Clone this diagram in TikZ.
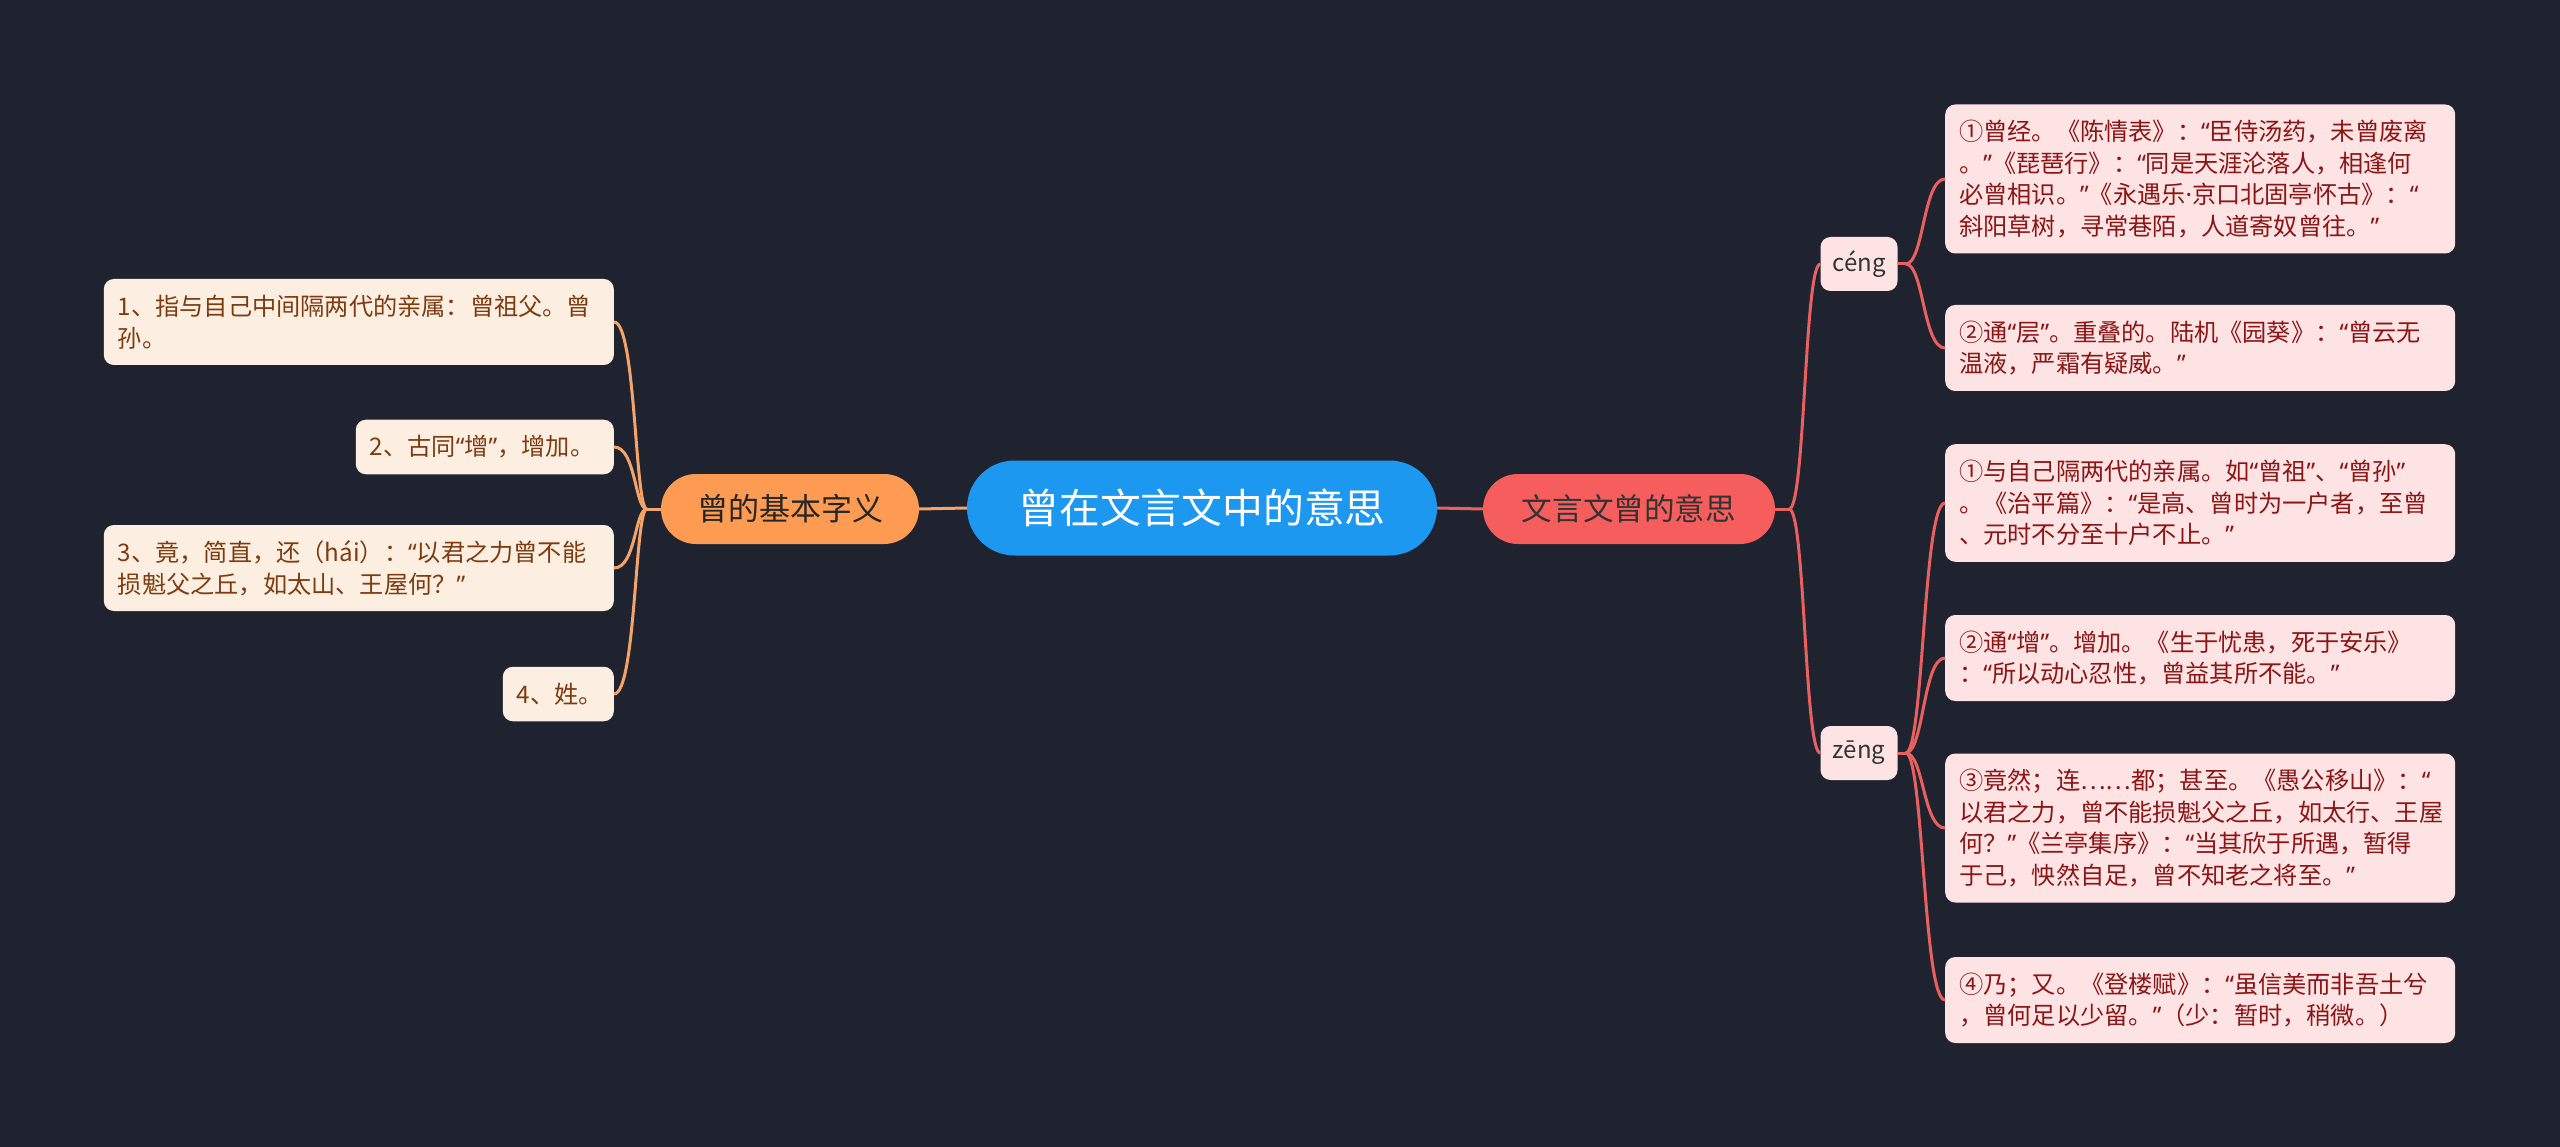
\documentclass[tikz,border=0pt]{standalone}
\usepackage{fontspec}
\newfontfamily\cjk{Noto Sans CJK SC}
\newfontfamily\latinq{Noto Sans}
\newcommand\qopen{{\latinq “}}
\newcommand\qclose{{\latinq ”}}
\newcommand\qdot{{\latinq ·}}
\usepackage{tikz}
\definecolor{bgnight}{RGB}{31,35,48}
\definecolor{rootblue}{RGB}{28,152,240}
\definecolor{basicorange}{RGB}{253,155,82}
\definecolor{meanred}{RGB}{246,94,94}
\definecolor{leafpeach}{RGB}{253,238,226}
\definecolor{leafpink}{RGB}{253,227,227}
\definecolor{inkbrown}{RGB}{124,60,16}
\definecolor{inkred}{RGB}{139,22,22}
\definecolor{wireorange}{RGB}{244,164,104}
\definecolor{wirered}{RGB}{232,97,95}
\tikzset{
  pill/.style={rounded corners=#1, inner sep=0pt, align=center},
  lines/.style={minimum height=#1*31.5+23},
  leafbox/.style={rounded corners=10, inner xsep=14, inner ysep=0,
    text width=482, align=left, font=\cjk\fontsize{24.2}{31.5}\selectfont},
  bleaf/.style={leafbox, fill=leafpeach, text=inkbrown},
  mleaf/.style={leafbox, fill=leafpink, text=inkred},
  lbranch/.style={draw=wireorange, line width=3},
  rbranch/.style={draw=wirered, line width=3}
}
\begin{document}
\begin{tikzpicture}[x=1pt,y=-1pt]
    % --- BACKGROUND ---
    \fill[bgnight] (0,0) rectangle (2560,1147);
    \useasboundingbox (0,0) rectangle (2560,1147);

    % --- CENTRE ---
    \node[pill=47.5, fill=rootblue, text=white, minimum width=470, minimum height=95,
      font=\cjk\fontsize{40.8}{48}\selectfont] (root) at (1202,508) {曾在文言文中的意思};
    \node[pill=35, fill=basicorange, text=black!85, minimum width=258, minimum height=70,
      font=\cjk\fontsize{31}{36}\selectfont] (basic) at (790,509) {曾的基本字义};
    \node[pill=35, fill=meanred, text=black!80, minimum width=292, minimum height=70,
      font=\cjk\fontsize{30.6}{36}\selectfont] (mean) at (1629,509) {文言文曾的意思};
    \draw[lbranch] (root.west) -- (basic.east);
    \draw[rbranch] (root.east) -- (mean.west);

    % --- LEFT: BASIC SENSES ---
    \node[bleaf, lines=2, anchor=east] (b1) at (614,322)
      {1、指与自己中间隔两代的亲属：曾祖父。曾\\孙。};
    \node[bleaf, lines=1, anchor=east, text width=230] (b2) at (614,447)
      {2、古同\qopen 增\qclose ，增加。};
    \node[bleaf, lines=2, anchor=east] (b3) at (614,568)
      {3、竟，简直，还（hái）：\qopen 以君之力曾不能\\损魁父之丘，如太山、王屋何？\qclose};
    \node[bleaf, lines=1, anchor=east, text width=83] (b4) at (614,694)
      {4、姓。};
    \draw[lbranch] (basic.west) -- ++(-14,0) coordinate (jl);
    \foreach \n in {b1,b2,b3,b4}
      \draw[lbranch] (jl) .. controls +(-12,0) and +(22,0) .. (\n.east);

    % --- RIGHT: READINGS ---
    \node[pill=10, fill=leafpink, text=black!80, minimum width=77, minimum height=54,
      font=\cjk\fontsize{24}{28}\selectfont] (ceng) at (1859,264) {céng};
    \node[pill=10, fill=leafpink, text=black!80, minimum width=77, minimum height=54,
      font=\cjk\fontsize{24}{28}\selectfont] (zeng) at (1859,753) {zēng};
    \draw[rbranch] (mean.east) -- ++(14,0) coordinate (jr);
    \foreach \n in {ceng,zeng}
      \draw[rbranch] (jr) .. controls +(16,0) and +(-16,0) .. (\n.west);

    \node[mleaf, lines=4, anchor=west] (c1) at (1945,179)
      {①曾经。《陈情表》：\qopen 臣侍汤药，未曾废离\\。\qclose 《琵琶行》：\qopen 同是天涯沦落人，相逢何\\必曾相识。\qclose 《永遇乐\qdot 京口北固亭怀古》：\qopen\\斜阳草树，寻常巷陌，人道寄奴曾往。\qclose};
    \node[mleaf, lines=2, anchor=west] (c2) at (1945,348)
      {②通\qopen 层\qclose 。重叠的。陆机《园葵》：\qopen 曾云无\\温液，严霜有疑威。\qclose};
    \draw[rbranch] (ceng.east) -- ++(8,0) coordinate (jc);
    \foreach \n in {c1,c2}
      \draw[rbranch] (jc) .. controls +(18,0) and +(-22,0) .. (\n.west);

    \node[mleaf, lines=3, anchor=west] (z1) at (1945,503)
      {①与自己隔两代的亲属。如\qopen 曾祖\qclose 、\qopen 曾孙\qclose\\。《治平篇》：\qopen 是高、曾时为一户者，至曾\\、元时不分至十户不止。\qclose};
    \node[mleaf, lines=2, anchor=west] (z2) at (1945,658)
      {②通\qopen 增\qclose 。增加。《生于忧患，死于安乐》\\：\qopen 所以动心忍性，曾益其所不能。\qclose};
    \node[mleaf, lines=4, anchor=west] (z3) at (1945,828)
      {③竟然；连……都；甚至。《愚公移山》：\qopen\\以君之力，曾不能损魁父之丘，如太行、王屋\\何？\qclose 《兰亭集序》：\qopen 当其欣于所遇，暂得\\于己，怏然自足，曾不知老之将至。\qclose};
    \node[mleaf, lines=2, anchor=west] (z4) at (1945,1000)
      {④乃；又。《登楼赋》：\qopen 虽信美而非吾土兮\\，曾何足以少留。\qclose （少：暂时，稍微。）};
    \draw[rbranch] (zeng.east) -- ++(8,0) coordinate (jz);
    \foreach \n in {z1,z2,z3,z4}
      \draw[rbranch] (jz) .. controls +(18,0) and +(-22,0) .. (\n.west);
\end{tikzpicture}
\end{document}
